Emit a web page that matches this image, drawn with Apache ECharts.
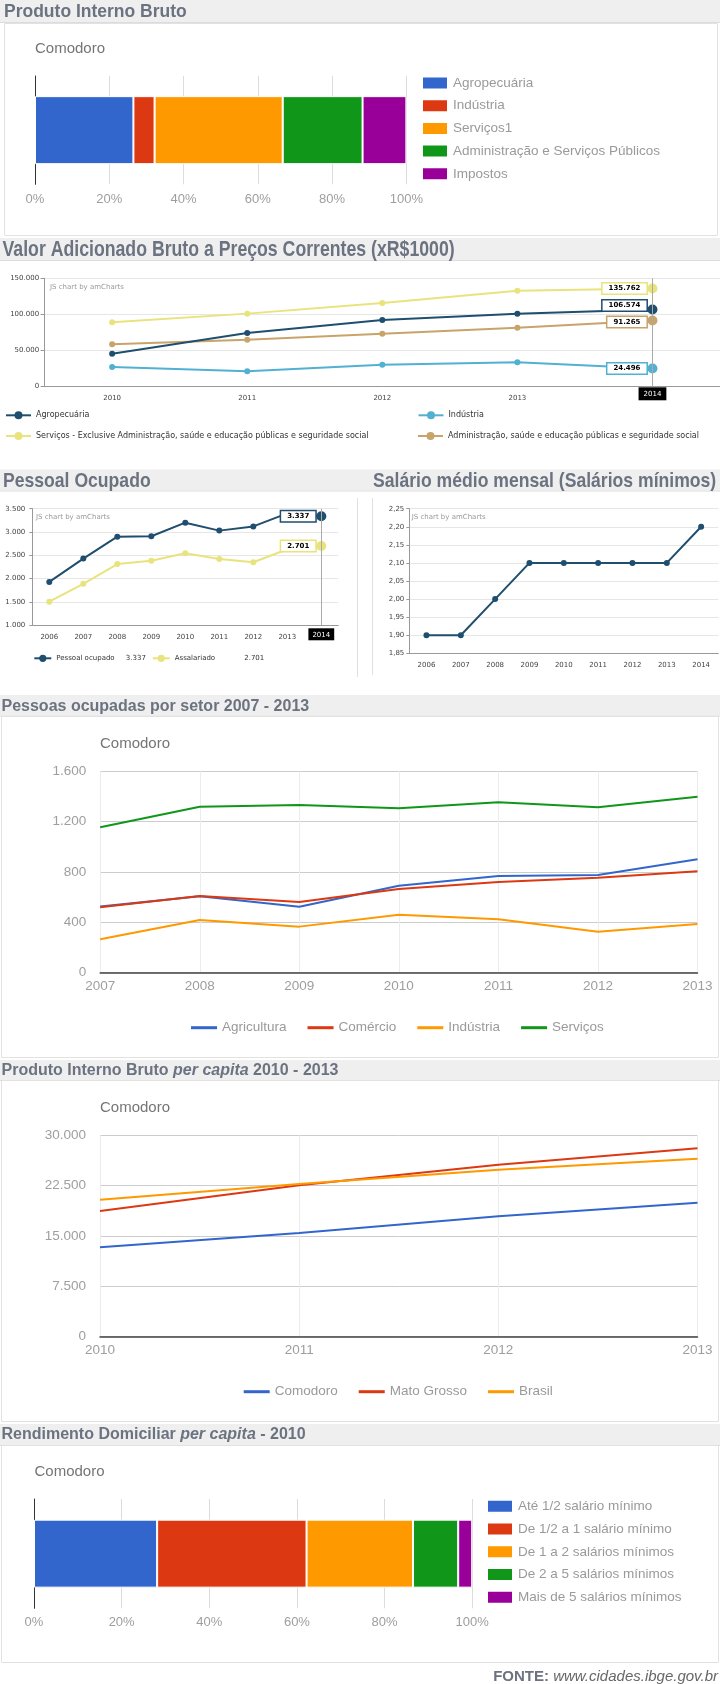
<!DOCTYPE html>
<html><head><meta charset="utf-8">
<script src="https://cdn.jsdelivr.net/npm/echarts/dist/echarts.min.js"></script>
<style>
html,body{margin:0;padding:0;background:#fff;width:720px;height:1684px;overflow:hidden;}
.c{position:absolute;}
</style></head><body>
<div id="c1" class="c" style="left:0;top:0;width:720px;height:237px"></div>
<div id="c2" class="c" style="left:0;top:237px;width:720px;height:228px"></div>
<div id="c3" class="c" style="left:0;top:465px;width:360px;height:225px"></div>
<div id="c4" class="c" style="left:360px;top:465px;width:360px;height:225px"></div>
<div id="c5" class="c" style="left:0;top:695px;width:720px;height:365px"></div>
<div id="c6" class="c" style="left:0;top:1060px;width:720px;height:362px"></div>
<div id="c7" class="c" style="left:0;top:1422px;width:720px;height:262px"></div>
<script>
// ---------------- DATA ----------------
const pibCategories = ['Agropecuária', 'Indústria', 'Serviços1', 'Administração e Serviços Públicos', 'Impostos'];
const pibShares = [26.5, 5.7, 34.5, 21.5, 11.8];

const vabYears = ['2010', '2011', '2012', '2013', '2014'];
const vabNames = ['Agropecuária', 'Indústria', 'Serviços - Exclusive Administração, saúde e educação públicas e seguridade social', 'Administração, saúde e educação públicas e seguridade social'];
const vabAgro = [45000, 73800, 91900, 100700, 106574];
const vabInd = [26600, 20500, 29700, 33000, 24496];
const vabServ = [88700, 100800, 115600, 132800, 135762];
const vabAdm = [58100, 64500, 72900, 81300, 91265];
const vabTicks = [0, 50000, 100000, 150000];

const poYears = ['2006', '2007', '2008', '2009', '2010', '2011', '2012', '2013', '2014'];
const poNames = ['Pessoal ocupado', 'Assalariado'];
const pessoalOcupado = [1930, 2430, 2900, 2910, 3200, 3030, 3120, 3400, 3337];
const assalariado = [1506, 1890, 2314, 2385, 2544, 2422, 2351, 2630, 2701];

const salYears = ['2006', '2007', '2008', '2009', '2010', '2011', '2012', '2013', '2014'];
const salarioMedio = [1.90, 1.90, 2.00, 2.10, 2.10, 2.10, 2.10, 2.10, 2.20];

const setorYears = ['2007', '2008', '2009', '2010', '2011', '2012', '2013'];
const setorNames = ['Agricultura', 'Comércio', 'Indústria', 'Serviços'];
const agricultura = [525, 607, 524, 691, 768, 776, 901];
const comercio = [520, 610, 562, 665, 721, 755, 806];
const industria = [265, 419, 366, 461, 424, 326, 387];
const servicos = [1155, 1319, 1332, 1306, 1354, 1314, 1398];

const pcYears = ['2010', '2011', '2012', '2013'];
const pcNames = ['Comodoro', 'Mato Grosso', 'Brasil'];
const pcComodoro = [13317, 15447, 17934, 19960];
const pcMatoGrosso = [18724, 22552, 25620, 28063];
const pcBrasil = [20407, 22746, 24876, 26514];

const rendCategories = ['Até 1/2 salário mínimo', 'De 1/2 a 1 salário mínimo', 'De 1 a 2 salários mínimos', 'De 2 a 5 salários mínimos', 'Mais de 5 salários mínimos'];
const rendShares = [28.1, 34.1, 24.3, 10.3, 3.2];

// ---------------- STYLE HELPERS ----------------
const AR = 'Liberation Sans, Arial, sans-serif';
const VD = 'DejaVu Sans, Verdana, sans-serif';
const HC = '#6b7280';
const GC = ['#3366cc', '#dc3912', '#ff9900', '#109618', '#990099'];
const AM = {navy: '#1f4e6e', cyan: '#52b0d2', yellow: '#e9e37e', tan: '#c9a46a'};

function fmt(v) { return String(Math.round(v)).replace(/\B(?=(\d{3})+(?!\d))/g, '.'); }
function band(y, h, w) {
  return [
    {type: 'rect', shape: {x: 0, y: y, width: w, height: h}, style: {fill: '#efefef'}, z: -10, silent: true},
    {type: 'line', shape: {x1: 0, y1: y + h + 0.5, x2: w, y2: y + h + 0.5}, style: {stroke: '#dcdcdc', lineWidth: 1}, z: -9, silent: true}
  ];
}
function htext(x, y, text, size, sy, rich) {
  const st = {text: text, fontSize: size, fontWeight: 'bold', fontFamily: AR, fill: HC, verticalAlign: 'middle'};
  if (rich) st.rich = rich;
  return {type: 'text', x: x, y: y, scaleY: sy || 1, style: st, silent: true, z: 5};
}
function panel(x, y, w, h) {
  return {type: 'rect', shape: {x: x, y: y, width: w, height: h}, style: {fill: 'none', stroke: '#e2e2e2', lineWidth: 1}, z: -8, silent: true};
}
function gtext(x, y, text, size, color, family) {
  return {type: 'text', x: x, y: y, style: {text: text, fontSize: size, fontFamily: family || AR, fill: color, verticalAlign: 'middle'}, silent: true};
}
function vline(x, y1, y2) {
  return {type: 'line', shape: {x1: x, y1: y1, x2: x, y2: y2}, style: {stroke: '#e0e0e0', lineWidth: 1}, silent: true};
}
function hlFormatter(v) { return v === '2014' ? '{hl|' + v + '}' : '{n|' + v + '}'; }

function stackedBar(el, opts) {
  const c = echarts.init(document.getElementById(el), null, {renderer: 'canvas'});
  c.setOption(opts);
}

// ---------- Chart 1: PIB ----------
stackedBar('c1', {
  animation: false,
  graphic: [].concat(band(0, 22, 720), [
    htext(4, 12, 'Produto Interno Bruto', 17.5, 1),
    panel(4.5, 23.5, 713, 212),
    gtext(35, 49, 'Comodoro', 15, '#757575')
  ]),
  grid: {left: 35, top: 76, width: 371.4, height: 108.3},
  xAxis: {type: 'value', min: 0, max: 100, interval: 20, axisLine: {show: false}, axisTick: {show: false},
    axisLabel: {formatter: '{value}%', color: '#9e9e9e', fontSize: 13, fontFamily: AR, margin: 9},
    splitLine: {lineStyle: {color: '#dcdcdc'}}},
  yAxis: {type: 'category', data: ['Comodoro'], axisLine: {show: true, lineStyle: {color: '#333'}}, axisTick: {show: false}, axisLabel: {show: false}},
  legend: {orient: 'vertical', left: 421, top: 75.5, itemWidth: 26, itemHeight: 13, itemGap: 7.7, icon: 'rect', padding: 0, selectedMode: false,
    textStyle: {color: '#9a9a9a', fontSize: 13.5, fontFamily: AR, lineHeight: 13}, data: pibCategories},
  series: pibCategories.map((n, i) => ({name: n, type: 'bar', stack: 't', barWidth: 68, data: [pibShares[i]],
    itemStyle: {color: GC[i], borderColor: '#fff', borderWidth: 1}}))
});

// ---------- Chart 2: Valor Adicionado ----------
function amLine(name, data, color, labelOffset, extra) {
  const last = data.length - 1;
  const s = {
    name: name, type: 'line', symbol: 'circle', symbolSize: 6, color: color,
    lineStyle: {width: 2, color: color}, itemStyle: {color: color},
    data: data.map((v, i) => i === last ? {value: v, symbolSize: 10, label: {
      show: true, position: 'left', distance: 1, offset: [0, labelOffset || 0],
      formatter: p => fmt(p.value), backgroundColor: '#fff', borderColor: color, borderWidth: 1.5,
      padding: [2, 6, 1, 6], fontSize: 7, fontWeight: 'bold', fontFamily: VD, color: '#000'}} : v)
  };
  return Object.assign(s, extra || {});
}
const cursorLine = {silent: true, symbol: 'none', label: {show: false}, lineStyle: {color: '#aaa', width: 1, type: 'solid'}, data: [{xAxis: '2014'}], animation: false};
const amAxisLabelRich = {
  n: {padding: [7, 0, 0, 0], fontSize: 7, fontFamily: VD, color: '#444'},
  hl: {backgroundColor: '#000', color: '#fff', padding: [3, 5, 3, 5], fontSize: 7, fontFamily: VD}
};

const c2 = echarts.init(document.getElementById('c2'));
c2.setOption({
  animation: false,
  graphic: [].concat(band(1, 22, 720), [
    htext(2.5, 13, 'Valor Adicionado Bruto a Preços Correntes (xR$1000)', 17.7, 1.2),
    gtext(50, 49.7, 'JS chart by amCharts', 7, '#999', VD)
  ]),
  grid: {left: 44.6, top: 41.3, right: -54.6, height: 107.7},
  xAxis: {type: 'category', data: vabYears, boundaryGap: true, axisLine: {lineStyle: {color: '#999'}}, axisTick: {show: false},
    axisLabel: {interval: 0, formatter: hlFormatter, rich: amAxisLabelRich, margin: 1.3}},
  yAxis: {type: 'value', min: vabTicks[0], max: vabTicks[vabTicks.length - 1], interval: vabTicks[1] - vabTicks[0],
    axisLine: {show: true, lineStyle: {color: '#999'}}, axisTick: {show: true, length: 4, lineStyle: {color: '#999'}},
    axisLabel: {formatter: fmt, fontSize: 7, fontFamily: VD, color: '#444', margin: 5.5},
    splitLine: {lineStyle: {color: '#e6e6e6'}}},
  legend: [
    {data: [vabNames[0]], left: 5, top: 173.3},
    {data: [vabNames[1]], left: 417.5, top: 173.3},
    {data: [vabNames[2]], left: 5, top: 194},
    {data: [vabNames[3]], left: 417, top: 194}
  ].map(l => Object.assign({itemWidth: 25, itemHeight: 10, padding: 0, selectedMode: false,
    textStyle: {fontSize: 8, fontFamily: VD, color: '#333', lineHeight: 10}}, l)),
  series: [
    amLine(vabNames[0], vabAgro, AM.navy, -4, {markLine: cursorLine, z: 4}),
    amLine(vabNames[1], vabInd, AM.cyan, 0),
    amLine(vabNames[2], vabServ, AM.yellow, 0),
    amLine(vabNames[3], vabAdm, AM.tan, 1.5)
  ]
});

// ---------- Chart 3: Pessoal Ocupado ----------
const c3 = echarts.init(document.getElementById('c3'));
const poLegendRich = {n: {width: 69.5, fontSize: 7, fontFamily: VD, color: '#333'}, v: {fontSize: 7, fontFamily: VD, color: '#333'}};
c3.setOption({
  animation: false,
  graphic: [].concat(band(4.5, 21, 360), [
    htext(3, 16.7, 'Pessoal Ocupado', 17.6, 1.19),
    gtext(36, 51.7, 'JS chart by amCharts', 7, '#999', VD),
    vline(357.5, 33, 212)
  ]),
  grid: {left: 32.3, top: 43.7, width: 306, height: 116.6},
  xAxis: {type: 'category', data: poYears, boundaryGap: true, axisLine: {lineStyle: {color: '#999'}}, axisTick: {show: false},
    axisLabel: {interval: 0, formatter: hlFormatter, rich: {
      n: {padding: [5.5, 0, 0, 0], fontSize: 7, fontFamily: VD, color: '#444'},
      hl: {backgroundColor: '#000', color: '#fff', padding: [3, 4, 2, 4], fontSize: 7, fontFamily: VD}}, margin: 3}},
  yAxis: {type: 'value', min: 1000, max: 3500, interval: 500,
    axisLine: {show: true, lineStyle: {color: '#999'}}, axisTick: {show: true, length: 3, lineStyle: {color: '#999'}},
    axisLabel: {formatter: fmt, fontSize: 7, fontFamily: VD, color: '#444', margin: 7},
    splitLine: {lineStyle: {color: '#e6e6e6'}}},
  legend: [
    {data: [poNames[0]], left: 33.3, formatter: n => '{n|' + n + '}{v|' + fmt(pessoalOcupado[pessoalOcupado.length - 1]) + '}'},
    {data: [poNames[1]], left: 151.7, formatter: n => '{n|' + n + '}{v|' + fmt(assalariado[assalariado.length - 1]) + '}'}
  ].map(l => Object.assign({top: 188.8, itemWidth: 17, itemHeight: 9, padding: 0, selectedMode: false,
    textStyle: {fontSize: 7, fontFamily: VD, color: '#333', lineHeight: 9, rich: poLegendRich}}, l)),
  series: [
    amLine(poNames[0], pessoalOcupado, AM.navy, 0, {markLine: cursorLine, z: 4}),
    amLine(poNames[1], assalariado, AM.yellow, 0)
  ]
});

// ---------- Chart 4: Salário médio ----------
const c4 = echarts.init(document.getElementById('c4'));
c4.setOption({
  animation: false,
  graphic: [].concat(band(4.5, 21, 360), [
    htext(13, 16.7, 'Salário médio mensal (Salários mínimos)', 17.6, 1.19),
    gtext(51.7, 51.7, 'JS chart by amCharts', 7, '#999', VD),
    vline(12.5, 33, 210)
  ]),
  grid: {left: 49.3, top: 43.7, width: 309, height: 144.6},
  xAxis: {type: 'category', data: salYears, boundaryGap: true, axisLine: {lineStyle: {color: '#999'}}, axisTick: {show: false},
    axisLabel: {interval: 0, fontSize: 7, fontFamily: VD, color: '#444', margin: 8}},
  yAxis: {type: 'value', min: 1.85, max: 2.25, interval: 0.05,
    axisLine: {show: true, lineStyle: {color: '#999'}}, axisTick: {show: true, length: 3, lineStyle: {color: '#999'}},
    axisLabel: {formatter: v => (Math.round(v * 100) / 100).toFixed(2).replace('.', ','), fontSize: 7, fontFamily: VD, color: '#444', margin: 5},
    splitLine: {lineStyle: {color: '#e6e6e6'}}},
  series: [{name: 'Salário médio mensal', type: 'line', symbol: 'circle', symbolSize: 6, data: salarioMedio,
    lineStyle: {width: 2, color: AM.navy}, itemStyle: {color: AM.navy}}]
});

// ---------- Google-style line charts ----------
function gLine(el, o) {
  const c = echarts.init(document.getElementById(el));
  c.setOption({
    animation: false,
    graphic: o.graphic,
    grid: o.grid,
    xAxis: {type: 'category', data: o.cats, boundaryGap: false,
      axisLine: {lineStyle: {color: '#444', width: 1.5}}, axisTick: {show: false},
      axisLabel: {interval: 0, color: '#9e9e9e', fontSize: 13.5, fontFamily: AR, margin: 7},
      splitLine: {show: true, lineStyle: {color: '#ececec'}}},
    yAxis: {type: 'value', min: o.min, max: o.max, interval: o.interval,
      axisLine: {show: false}, axisTick: {show: false},
      axisLabel: {formatter: fmt, color: '#9e9e9e', fontSize: 13.5, fontFamily: AR, margin: 14},
      splitLine: {lineStyle: {color: '#cccccc'}}},
    legend: {left: o.legendLeft, top: o.legendTop, icon: 'rect', itemWidth: 26, itemHeight: 3, itemGap: 21, padding: 0, selectedMode: false,
      textStyle: {color: '#9a9a9a', fontSize: 13.5, fontFamily: AR, lineHeight: 14}, data: o.names},
    series: o.names.map((n, i) => ({name: n, type: 'line', symbol: 'none', data: o.data[i],
      lineStyle: {width: 2, color: o.colors[i]}, itemStyle: {color: o.colors[i]}}))
  });
}

gLine('c5', {
  graphic: [].concat(band(0, 20.7, 720), [
    htext(1.5, 11.7, 'Pessoas ocupadas por setor 2007 - 2013', 16, 1),
    panel(1.5, 21.5, 717, 341),
    gtext(100, 49, 'Comodoro', 15, '#757575')
  ]),
  grid: {left: 100.2, top: 76.3, width: 597.3, height: 201.4},
  cats: setorYears, min: 0, max: 1600, interval: 400,
  names: setorNames, data: [agricultura, comercio, industria, servicos],
  colors: [GC[0], GC[1], GC[2], GC[3]],
  legendLeft: 191, legendTop: 325.7
});

const titleRich = {
  b: {fontSize: 16, fontWeight: 'bold', fontFamily: AR, fill: HC, color: HC},
  i: {fontSize: 16, fontWeight: 'bold', fontStyle: 'italic', fontFamily: AR, fill: HC, color: HC}
};
gLine('c6', {
  graphic: [].concat(band(0, 20, 720), [
    htext(1.5, 11, '{b|Produto Interno Bruto }{i|per capita}{b| 2010 - 2013}', 16, 1, titleRich),
    panel(1.5, 20.5, 717, 341),
    gtext(100, 47.7, 'Comodoro', 15, '#757575')
  ]),
  grid: {left: 100, top: 75.3, width: 597.5, height: 201.4},
  cats: pcYears, min: 0, max: 30000, interval: 7500,
  names: pcNames, data: [pcComodoro, pcMatoGrosso, pcBrasil],
  colors: [GC[0], GC[1], GC[2]],
  legendLeft: 243.7, legendTop: 324.7
});

// ---------- Chart 7: Rendimento ----------
const fonteRich = {
  b: {fontSize: 15, fontWeight: 'bold', fontFamily: AR, fill: HC, color: HC},
  i: {fontSize: 15, fontStyle: 'italic', fontFamily: AR, fill: '#666', color: '#666'}
};
stackedBar('c7', {
  animation: false,
  graphic: [].concat(band(2, 21, 720), [
    htext(1.5, 13, '{b|Rendimento Domiciliar }{i|per capita}{b| - 2010}', 16, 1, titleRich),
    panel(1.5, 23.5, 717, 217),
    gtext(34.5, 50.3, 'Comodoro', 15, '#757575'),
    {type: 'text', x: 718, y: 254.7, style: {text: '{b|FONTE: }{i|www.cidades.ibge.gov.br}', rich: fonteRich, align: 'right', verticalAlign: 'middle'}, silent: true}
  ]),
  grid: {left: 34, top: 77, width: 438.2, height: 109.3},
  xAxis: {type: 'value', min: 0, max: 100, interval: 20, axisLine: {show: false}, axisTick: {show: false},
    axisLabel: {formatter: '{value}%', color: '#9e9e9e', fontSize: 13, fontFamily: AR, margin: 7.5},
    splitLine: {lineStyle: {color: '#dcdcdc'}}},
  yAxis: {type: 'category', data: ['Comodoro'], axisLine: {show: true, lineStyle: {color: '#333'}}, axisTick: {show: false}, axisLabel: {show: false}},
  legend: {orient: 'vertical', left: 486, top: 76.8, itemWidth: 26, itemHeight: 13, itemGap: 7.75, icon: 'rect', padding: 0, selectedMode: false,
    textStyle: {color: '#9a9a9a', fontSize: 13.5, fontFamily: AR, lineHeight: 13}, data: rendCategories},
  series: rendCategories.map((n, i) => ({name: n, type: 'bar', stack: 't', barWidth: 68, data: [rendShares[i]],
    itemStyle: {color: GC[i], borderColor: '#fff', borderWidth: 1}}))
});
</script>
</body></html>
